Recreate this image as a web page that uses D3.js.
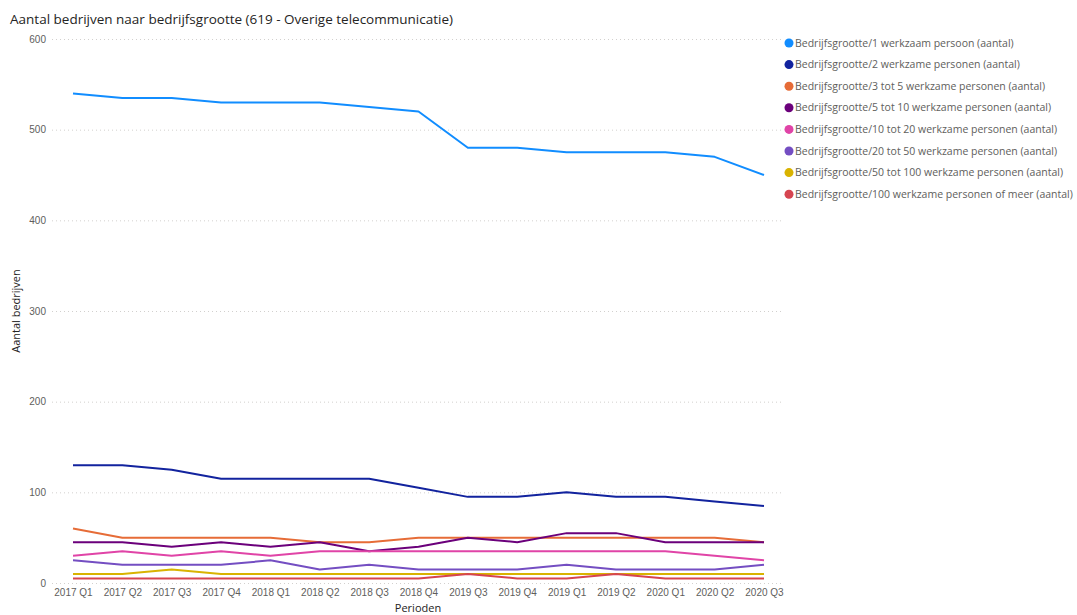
<!DOCTYPE html>
<html>
<head>
<meta charset="utf-8">
<script src="https://cdn.jsdelivr.net/npm/d3@7"></script>
<style>
  body { margin: 0; background: #fff; }
  svg { font-family: "Segoe UI", "Open Sans", "Liberation Sans", sans-serif; }
  .axis .domain { display: none; }
  .axis .tick line { display: none; }
  .axis text { fill: #605E5C; font-size: 10px; }
  .grid line { stroke: #D2D0CE; stroke-dasharray: 1 3; }
  .grid .domain { display: none; }
</style>
</head>
<body>
<svg id="chart"></svg>
<script>
// periods on the x axis
const periods = [
  "2017 Q1", "2017 Q2", "2017 Q3", "2017 Q4",
  "2018 Q1", "2018 Q2", "2018 Q3", "2018 Q4",
  "2019 Q3", "2019 Q4", "2019 Q1", "2019 Q2",
  "2020 Q1", "2020 Q2", "2020 Q3",
];

const seriesNames = [
  "Bedrijfsgrootte/1 werkzaam persoon (aantal)",
  "Bedrijfsgrootte/2 werkzame personen (aantal)",
  "Bedrijfsgrootte/3 tot 5 werkzame personen (aantal)",
  "Bedrijfsgrootte/5 tot 10 werkzame personen (aantal)",
  "Bedrijfsgrootte/10 tot 20 werkzame personen (aantal)",
  "Bedrijfsgrootte/20 tot 50 werkzame personen (aantal)",
  "Bedrijfsgrootte/50 tot 100 werkzame personen (aantal)",
  "Bedrijfsgrootte/100 werkzame personen of meer (aantal)",
];

const seriesColors = ["#118DFF", "#12239E", "#E66C37", "#6B007B", "#E044A7", "#744EC2", "#D9B300", "#D64550"];

// values per series
const size1 = [540, 535, 535, 530, 530, 530, 525, 520, 480, 480, 475, 475, 475, 470, 450];
const size2 = [130, 130, 125, 115, 115, 115, 115, 105, 95, 95, 100, 95, 95, 90, 85];
const size3to5 = [60, 50, 50, 50, 50, 45, 45, 50, 50, 50, 50, 50, 50, 50, 45];
const size5to10 = [45, 45, 40, 45, 40, 45, 35, 40, 50, 45, 55, 55, 45, 45, 45];
const size10to20 = [30, 35, 30, 35, 30, 35, 35, 35, 35, 35, 35, 35, 35, 30, 25];
const size20to50 = [25, 20, 20, 20, 25, 15, 20, 15, 15, 15, 20, 15, 15, 15, 20];
const size50to100 = [10, 10, 15, 10, 10, 10, 10, 10, 10, 10, 10, 10, 10, 10, 10];
const size100plus = [5, 5, 5, 5, 5, 5, 5, 5, 10, 5, 5, 10, 5, 5, 5];

const yTicks = [0, 100, 200, 300, 400, 500, 600];

const allSeries = [size1, size2, size3to5, size5to10, size10to20, size20to50, size50to100, size100plus];

// Graph Dimensions
const totalWidth = 1077;
const totalHeight = 615;
const plotLeft = 52;
const plotRight = 782;
const plotTop = 39;
const plotBottom = 583;

const svg = d3.select("#chart").attr("width", totalWidth).attr("height", totalHeight);

const xScale = d3.scalePoint().domain(periods).range([73, 764]);
const yScale = d3.scaleLinear().domain([0, 600]).range([plotBottom, plotTop]);

// title
svg.append("text")
  .attr("x", 10)
  .attr("y", 24)
  .attr("fill", "#252423")
  .style("font-size", "13.5px")
  .text("Aantal bedrijven naar bedrijfsgrootte (619 - Overige telecommunicatie)");

// y gridlines
svg.append("g")
  .attr("class", "grid")
  .attr("transform", `translate(${plotLeft},0)`)
  .call(d3.axisRight(yScale).tickValues(yTicks).tickSize(plotRight - plotLeft).tickFormat(""));

// y axis
svg.append("g")
  .attr("class", "axis y-axis")
  .attr("transform", `translate(${plotLeft - 4},0)`)
  .call(d3.axisLeft(yScale).tickValues(yTicks).tickSize(0).tickPadding(2));

// x axis
svg.append("g")
  .attr("class", "axis x-axis")
  .attr("transform", `translate(0,${plotBottom})`)
  .call(d3.axisBottom(xScale).tickSize(0).tickPadding(6));

// axis titles
svg.append("text")
  .attr("transform", `translate(20,${(plotTop + plotBottom) / 2}) rotate(-90)`)
  .attr("text-anchor", "middle")
  .attr("fill", "#252423")
  .style("font-size", "11px")
  .text("Aantal bedrijven");

svg.append("text")
  .attr("x", (plotLeft + plotRight) / 2 + 1)
  .attr("y", 612)
  .attr("text-anchor", "middle")
  .attr("fill", "#252423")
  .style("font-size", "11px")
  .text("Perioden");

// lines, in legend order so later series sit on top
const lineFunction = d3.line()
  .x((d, i) => xScale(periods[i]))
  .y((d) => yScale(d));

const lines = svg.append("g").attr("class", "graph-lines");
allSeries.forEach((values, index) => {
  lines.append("path")
    .attr("d", lineFunction(values))
    .attr("fill", "none")
    .attr("stroke", seriesColors[index])
    .attr("stroke-width", 2)
    .attr("stroke-linejoin", "round");
});

// legend
const legend = svg.append("g").attr("class", "legend").attr("transform", "translate(789,43)");
seriesNames.forEach((name, i) => {
  const row = legend.append("g").attr("transform", `translate(0,${i * 21.6})`);
  row.append("circle").attr("r", 4.5).attr("fill", seriesColors[i]);
  row.append("text")
    .attr("x", 6)
    .attr("dy", "0.35em")
    .attr("fill", "#605E5C")
    .style("font-size", "10.5px")
    .text(name);
});
</script>
</body>
</html>
